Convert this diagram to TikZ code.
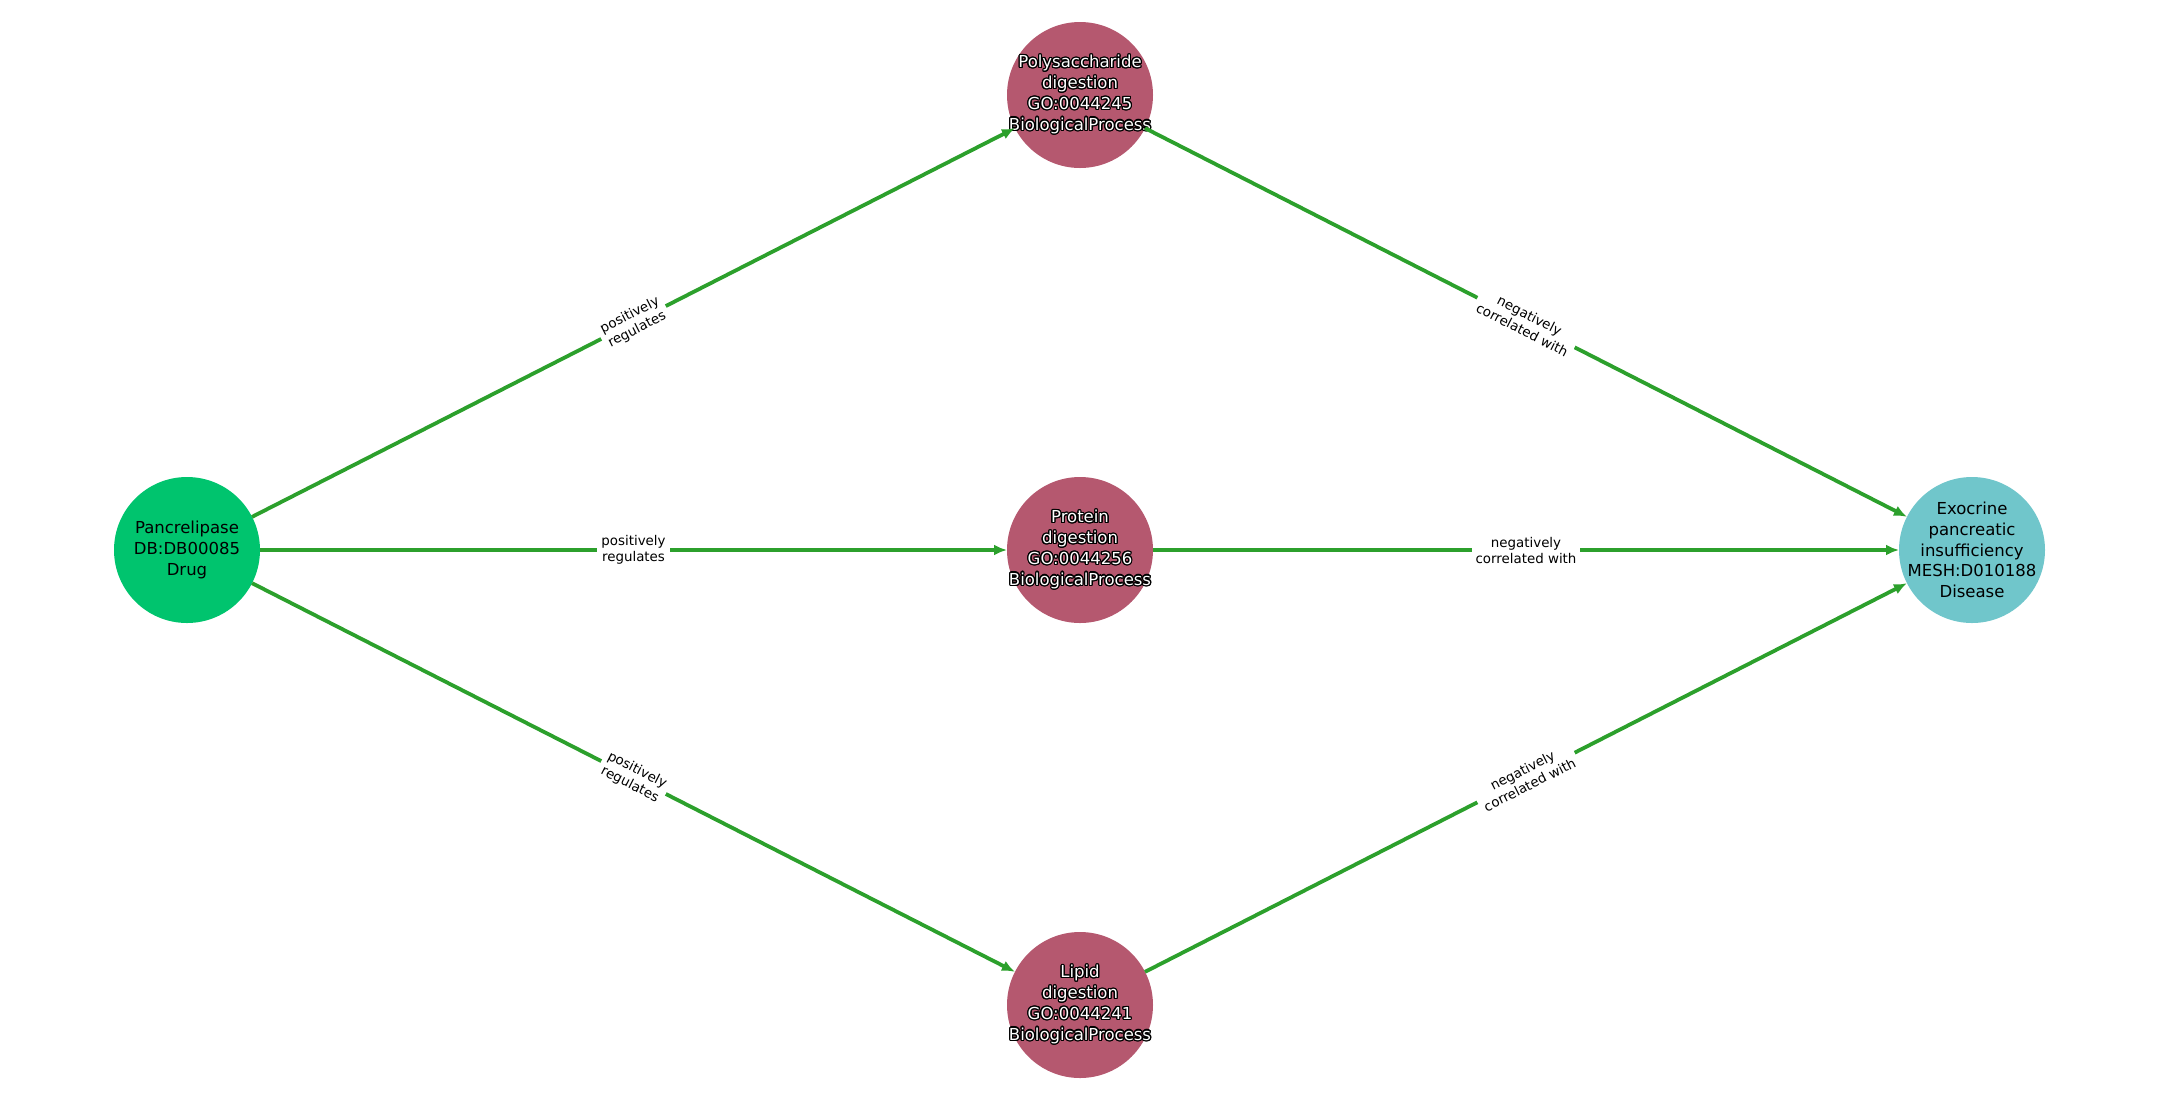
\documentclass[tikz,border=0pt]{standalone}
\usepackage{fontspec}
\setmainfont{DejaVu Sans}
\usepackage{contour}
\contourlength{0.6pt}
\usetikzlibrary{arrows.meta}
\definecolor{drugc}{HTML}{00C46E}
\definecolor{procc}{HTML}{B5586F}
\definecolor{disc}{HTML}{70C6CB}
\definecolor{edgec}{HTML}{2CA02C}
\newcommand{\wt}[1]{\contour{black}{#1}}
\begin{document}
\begin{tikzpicture}[x=0.5pt,y=-0.5pt,
  ent/.style={circle,minimum size=73pt,inner sep=0pt,outer sep=0pt},
  ntext/.style={font=\fontsize{8.25}{10.4}\selectfont,align=center,text=black},
  wtext/.style={font=\fontsize{8.25}{10.4}\selectfont,align=center,text=white},
  edge/.style={draw=edgec,line width=1.9pt,-{Latex[length=6.5pt,width=5.5pt]}},
  elab/.style={font=\fontsize{6.7}{8}\selectfont,align=center,fill=white,text=black,sloped,inner sep=2pt,midway}]
\useasboundingbox (0,0) rectangle (2160,1100);
\node[ent,fill=drugc,label={[ntext]center:Pancrelipase\\DB:DB00085\\Drug}] (drug) at (187,550) {};
\node[ent,fill=procc,label={[wtext]center:\wt{Polysaccharide}\\\wt{digestion}\\\wt{GO:0044245}\\\wt{BiologicalProcess}}] (poly) at (1080,95) {};
\node[ent,fill=procc,label={[wtext]center:\wt{Protein}\\\wt{digestion}\\\wt{GO:0044256}\\\wt{BiologicalProcess}}] (prot) at (1080,550) {};
\node[ent,fill=procc,label={[wtext]center:\wt{Lipid}\\\wt{digestion}\\\wt{GO:0044241}\\\wt{BiologicalProcess}}] (lip) at (1080,1005) {};
\node[ent,fill=disc,label={[ntext]center:Exocrine\\pancreatic\\insufficiency\\MESH:D010188\\Disease}] (dis) at (1972,550) {};
\draw[edge] (drug) -- node[elab]{positively\\regulates} (poly);
\draw[edge] (drug) -- node[elab]{positively\\regulates} (prot);
\draw[edge] (drug) -- node[elab]{positively\\regulates} (lip);
\draw[edge] (poly) -- node[elab]{negatively\\correlated with} (dis);
\draw[edge] (prot) -- node[elab]{negatively\\correlated with} (dis);
\draw[edge] (lip) -- node[elab]{negatively\\correlated with} (dis);
\end{tikzpicture}
\end{document}
